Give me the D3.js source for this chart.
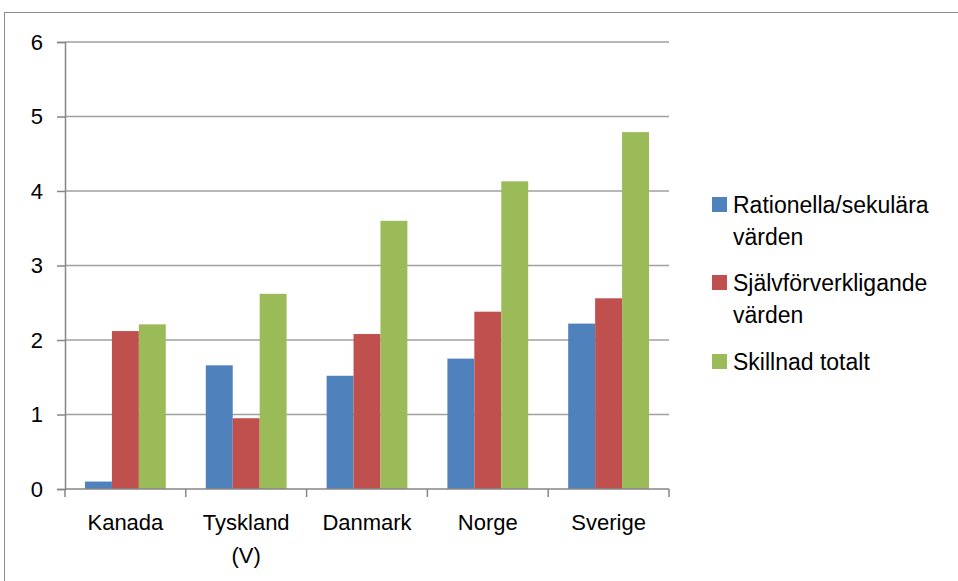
<!DOCTYPE html>
<html>
<head>
<meta charset="utf-8">
<script src="https://cdn.jsdelivr.net/npm/d3@7"></script>
<style>
  body { margin: 0; background: #fff; }
  text { font-family: "Liberation Sans", "DejaVu Sans", sans-serif; fill: #000; }
</style>
</head>
<body>
<div id="chart"></div>
<script>
// data
var countries = ["Kanada", "Tyskland (V)", "Danmark", "Norge", "Sverige"];
var seriesNames = ["Rationella/sekulära värden", "Självförverkligande värden", "Skillnad totalt"];
var rationella = [0.10, 1.66, 1.52, 1.75, 2.22];
var sjalv = [2.12, 0.95, 2.08, 2.38, 2.56];
var skillnad = [2.21, 2.62, 3.60, 4.13, 4.79];
var yTicks = [0, 1, 2, 3, 4, 5, 6];
var colors = ["#4F81BD", "#C0504D", "#9BBB59"];

var width = 958, height = 581;
var margin = { left: 65, right: 290, top: 42, bottom: 92 };

var svg = d3.select("#chart").append("svg")
    .attr("width", width)
    .attr("height", height);

// outer chart border
svg.append("rect")
    .attr("x", 4.5).attr("y", 12.5)
    .attr("width", 970).attr("height", 600)
    .attr("fill", "none")
    .attr("stroke", "#8c8c8c")
    .attr("stroke-width", 1);

var x0 = d3.scaleBand().domain(countries)
    .range([margin.left, width - margin.right + 1])
    .padding(0);
var x1 = d3.scaleBand().domain(seriesNames)
    .range([20, x0.bandwidth() - 20])
    .padding(0);
var y = d3.scaleLinear().domain([0, 6])
    .range([height - margin.bottom, margin.top]);

var g = svg.append("g");

// gridlines
g.selectAll(".grid").data(yTicks.slice(1)).enter().append("line")
    .attr("x1", margin.left).attr("x2", x0.range()[1])
    .attr("y1", function(d) { return y(d); })
    .attr("y2", function(d) { return y(d); })
    .attr("stroke", "#a0a0a0")
    .attr("stroke-width", 1.5);

// bars
var series = [rationella, sjalv, skillnad];
series.forEach(function(vals, si) {
    g.selectAll(".bar" + si).data(vals).enter().append("rect")
        .attr("x", function(d, i) { return x0(countries[i]) + x1(seriesNames[si]); })
        .attr("y", function(d) { return y(d); })
        .attr("width", x1.bandwidth())
        .attr("height", function(d) { return y(0) - y(d); })
        .attr("fill", colors[si]);
});

// y axis
var yAxis = d3.axisLeft(y).tickValues(yTicks).tickFormat(d3.format("d")).tickSize(8).tickPadding(14);
var yg = g.append("g")
    .attr("transform", "translate(" + margin.left + ",0)")
    .call(yAxis);
yg.select(".domain").attr("stroke", "#868686").attr("stroke-width", 1.5);
yg.selectAll(".tick line").attr("stroke", "#868686").attr("stroke-width", 1.5);
yg.selectAll(".tick text").style("font-size", "22px").style("font-family", "Liberation Sans").attr("fill", "#000");

// x axis with ticks on category boundaries
var bounds = countries.map(function(c) { return x0(c); }).concat([x0.range()[1]]);
g.append("line")
    .attr("x1", margin.left).attr("x2", x0.range()[1])
    .attr("y1", y(0)).attr("y2", y(0))
    .attr("stroke", "#868686").attr("stroke-width", 1.5);
g.selectAll(".xtick").data(bounds).enter().append("line")
    .attr("x1", function(d) { return d; }).attr("x2", function(d) { return d; })
    .attr("y1", y(0)).attr("y2", y(0) + 8)
    .attr("stroke", "#868686").attr("stroke-width", 1.5);

// category labels (wrapped like the original)
var labelLines = [["Kanada"], ["Tyskland", "(V)"], ["Danmark"], ["Norge"], ["Sverige"]];
countries.forEach(function(c, i) {
    var t = g.append("text")
        .attr("x", x0(c) + x0.bandwidth() / 2)
        .attr("y", y(0) + 41)
        .attr("text-anchor", "middle")
        .style("font-size", "22px");
    labelLines[i].forEach(function(line, li) {
        t.append("tspan")
            .attr("x", x0(c) + x0.bandwidth() / 2)
            .attr("dy", li === 0 ? 0 : 33)
            .text(line);
    });
});

// legend
var legendLines = [["Rationella/sekulära", "värden"], ["Självförverkligande", "värden"], ["Skillnad totalt"]];
var legendY = [205, 283, 362];
legendLines.forEach(function(lines, i) {
    svg.append("rect")
        .attr("x", 712).attr("y", legendY[i] - 8)
        .attr("width", 15).attr("height", 15)
        .attr("fill", colors[i]);
    var t = svg.append("text")
        .attr("x", 733).attr("y", legendY[i] + 8)
        .style("font-size", "23px");
    lines.forEach(function(line, li) {
        t.append("tspan")
            .attr("x", 733)
            .attr("dy", li === 0 ? 0 : 32)
            .text(line);
    });
});
</script>
</body>
</html>
